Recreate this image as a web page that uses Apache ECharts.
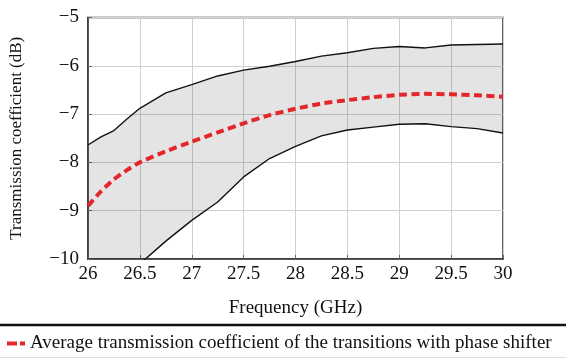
<!DOCTYPE html>
<html><head><meta charset="utf-8">
<script src="https://cdn.jsdelivr.net/npm/echarts@6/dist/echarts.min.js"></script>
<style>html,body{margin:0;padding:0;background:#fff}#c{width:566px;height:359px}</style>
</head><body><div id="c"></div>
<script>
const freq = [26, 26.125, 26.25, 26.375, 26.5, 26.75, 27, 27.25, 27.5, 27.75, 28, 28.25, 28.5, 28.75, 29, 29.25, 29.5, 29.75, 30];
const upper = [-7.64, -7.47, -7.34, -7.1, -6.88, -6.56, -6.39, -6.21, -6.09, -6.01, -5.91, -5.8, -5.73, -5.64, -5.6, -5.63, -5.57, -5.56, -5.55];
const mean = [-8.9, -8.6, -8.35, -8.16, -8.0, -7.77, -7.57, -7.38, -7.19, -7.02, -6.89, -6.78, -6.71, -6.65, -6.6, -6.58, -6.59, -6.61, -6.64];
const lower = [-11.1, -10.85, -10.6, -10.35, -10.1, -9.63, -9.2, -8.82, -8.3, -7.92, -7.67, -7.45, -7.33, -7.27, -7.21, -7.2, -7.26, -7.3, -7.39];
const xTicks = [26, 26.5, 27, 27.5, 28, 28.5, 29, 29.5, 30];
const yTicks = [-10, -9, -8, -7, -6, -5];
const legendText = 'Average transmission coefficient of the transitions with phase shifter';

const font = '"Liberation Serif", "DejaVu Serif", serif';
const FS = 19;
const pair = (ys) => freq.map((f, i) => [f, ys[i]]);
const minus = v => String(v).replace('-', '\u2212');

const chart = echarts.init(document.getElementById('c'), null, {renderer: 'canvas'});
chart.setOption({
  animation: false,
  grid: {left: 88, right: 63, top: 17.5, bottom: 100, show: true, borderColor: '#333', borderWidth: 1.5, backgroundColor: 'transparent'},
  xAxis: {
    type: 'value', min: xTicks[0], max: xTicks[xTicks.length - 1], interval: 0.5,
    name: 'Frequency (GHz)', nameLocation: 'middle', nameGap: 40,
    nameTextStyle: {fontFamily: font, fontSize: FS, color: '#111'},
    axisLine: {show: true, lineStyle: {color: '#333', width: 1.5}},
    axisTick: {show: true, inside: true, length: 4, lineStyle: {color: '#666'}},
    axisLabel: {fontFamily: font, fontSize: FS, color: '#111', margin: 6, formatter: v => String(v)},
    splitLine: {show: true, lineStyle: {color: '#cfcfcf', width: 1}}
  },
  yAxis: {
    type: 'value', min: yTicks[0], max: yTicks[yTicks.length - 1], interval: 1,
    name: 'Transmission coefficient (dB)', nameLocation: 'middle', nameGap: 63,
    nameTextStyle: {fontFamily: font, fontSize: 17, color: '#111'},
    axisLine: {show: true, lineStyle: {color: '#333', width: 1.5}},
    axisTick: {show: true, inside: true, length: 4, lineStyle: {color: '#666'}},
    axisLabel: {fontFamily: font, fontSize: FS, color: '#111', margin: 9, formatter: v => minus(v)},
    splitLine: {show: true, lineStyle: {color: '#cfcfcf', width: 1}}
  },
  legend: {
    show: true, left: 2, top: 329, itemWidth: 18, itemHeight: 4, itemGap: 4,
    data: [{name: legendText, icon: 'path://M0,0H10V4H0Z M13,0H18V4H13Z', itemStyle: {color: '#e3262a'}}],
    textStyle: {fontFamily: font, fontSize: FS, color: '#111'}
  },
  graphic: [
    {type: 'line', shape: {x1: 0, y1: 325, x2: 566, y2: 325}, style: {stroke: '#111', lineWidth: 2.5}},
    {type: 'line', shape: {x1: 0, y1: 357.5, x2: 566, y2: 357.5}, style: {stroke: '#ddd', lineWidth: 1}}
  ],
  series: [
    {type: 'custom', name: 'band', data: [[0]], z: 2, silent: true,
     renderItem: function (params, api) {
       const pts = [];
       for (let i = 0; i < freq.length; i++) pts.push(api.coord([freq[i], upper[i]]));
       for (let i = freq.length - 1; i >= 0; i--) pts.push(api.coord([freq[i], lower[i]]));
       const cs = params.coordSys;
       return {
         type: 'group',
         clipPath: {type: 'rect', shape: {x: cs.x, y: cs.y, width: cs.width, height: cs.height}},
         children: [{type: 'polygon', shape: {points: pts}, style: {fill: 'rgba(0,0,0,0.105)', stroke: null}}]
       };
     }},
    {type: 'line', name: 'upper', data: pair(upper), symbol: 'none', clip: true,
     lineStyle: {color: '#111', width: 1.4}, z: 3},
    {type: 'line', name: 'lower', data: pair(lower), symbol: 'none', clip: true,
     lineStyle: {color: '#111', width: 1.4}, z: 3},
    {type: 'line', name: legendText, data: pair(mean), symbol: 'none', smooth: 0.2, clip: true,
     lineStyle: {color: '#e3262a', width: 4, type: [8, 4.5]}, itemStyle: {color: '#e3262a'}, z: 4}
  ]
});
</script></body></html>
